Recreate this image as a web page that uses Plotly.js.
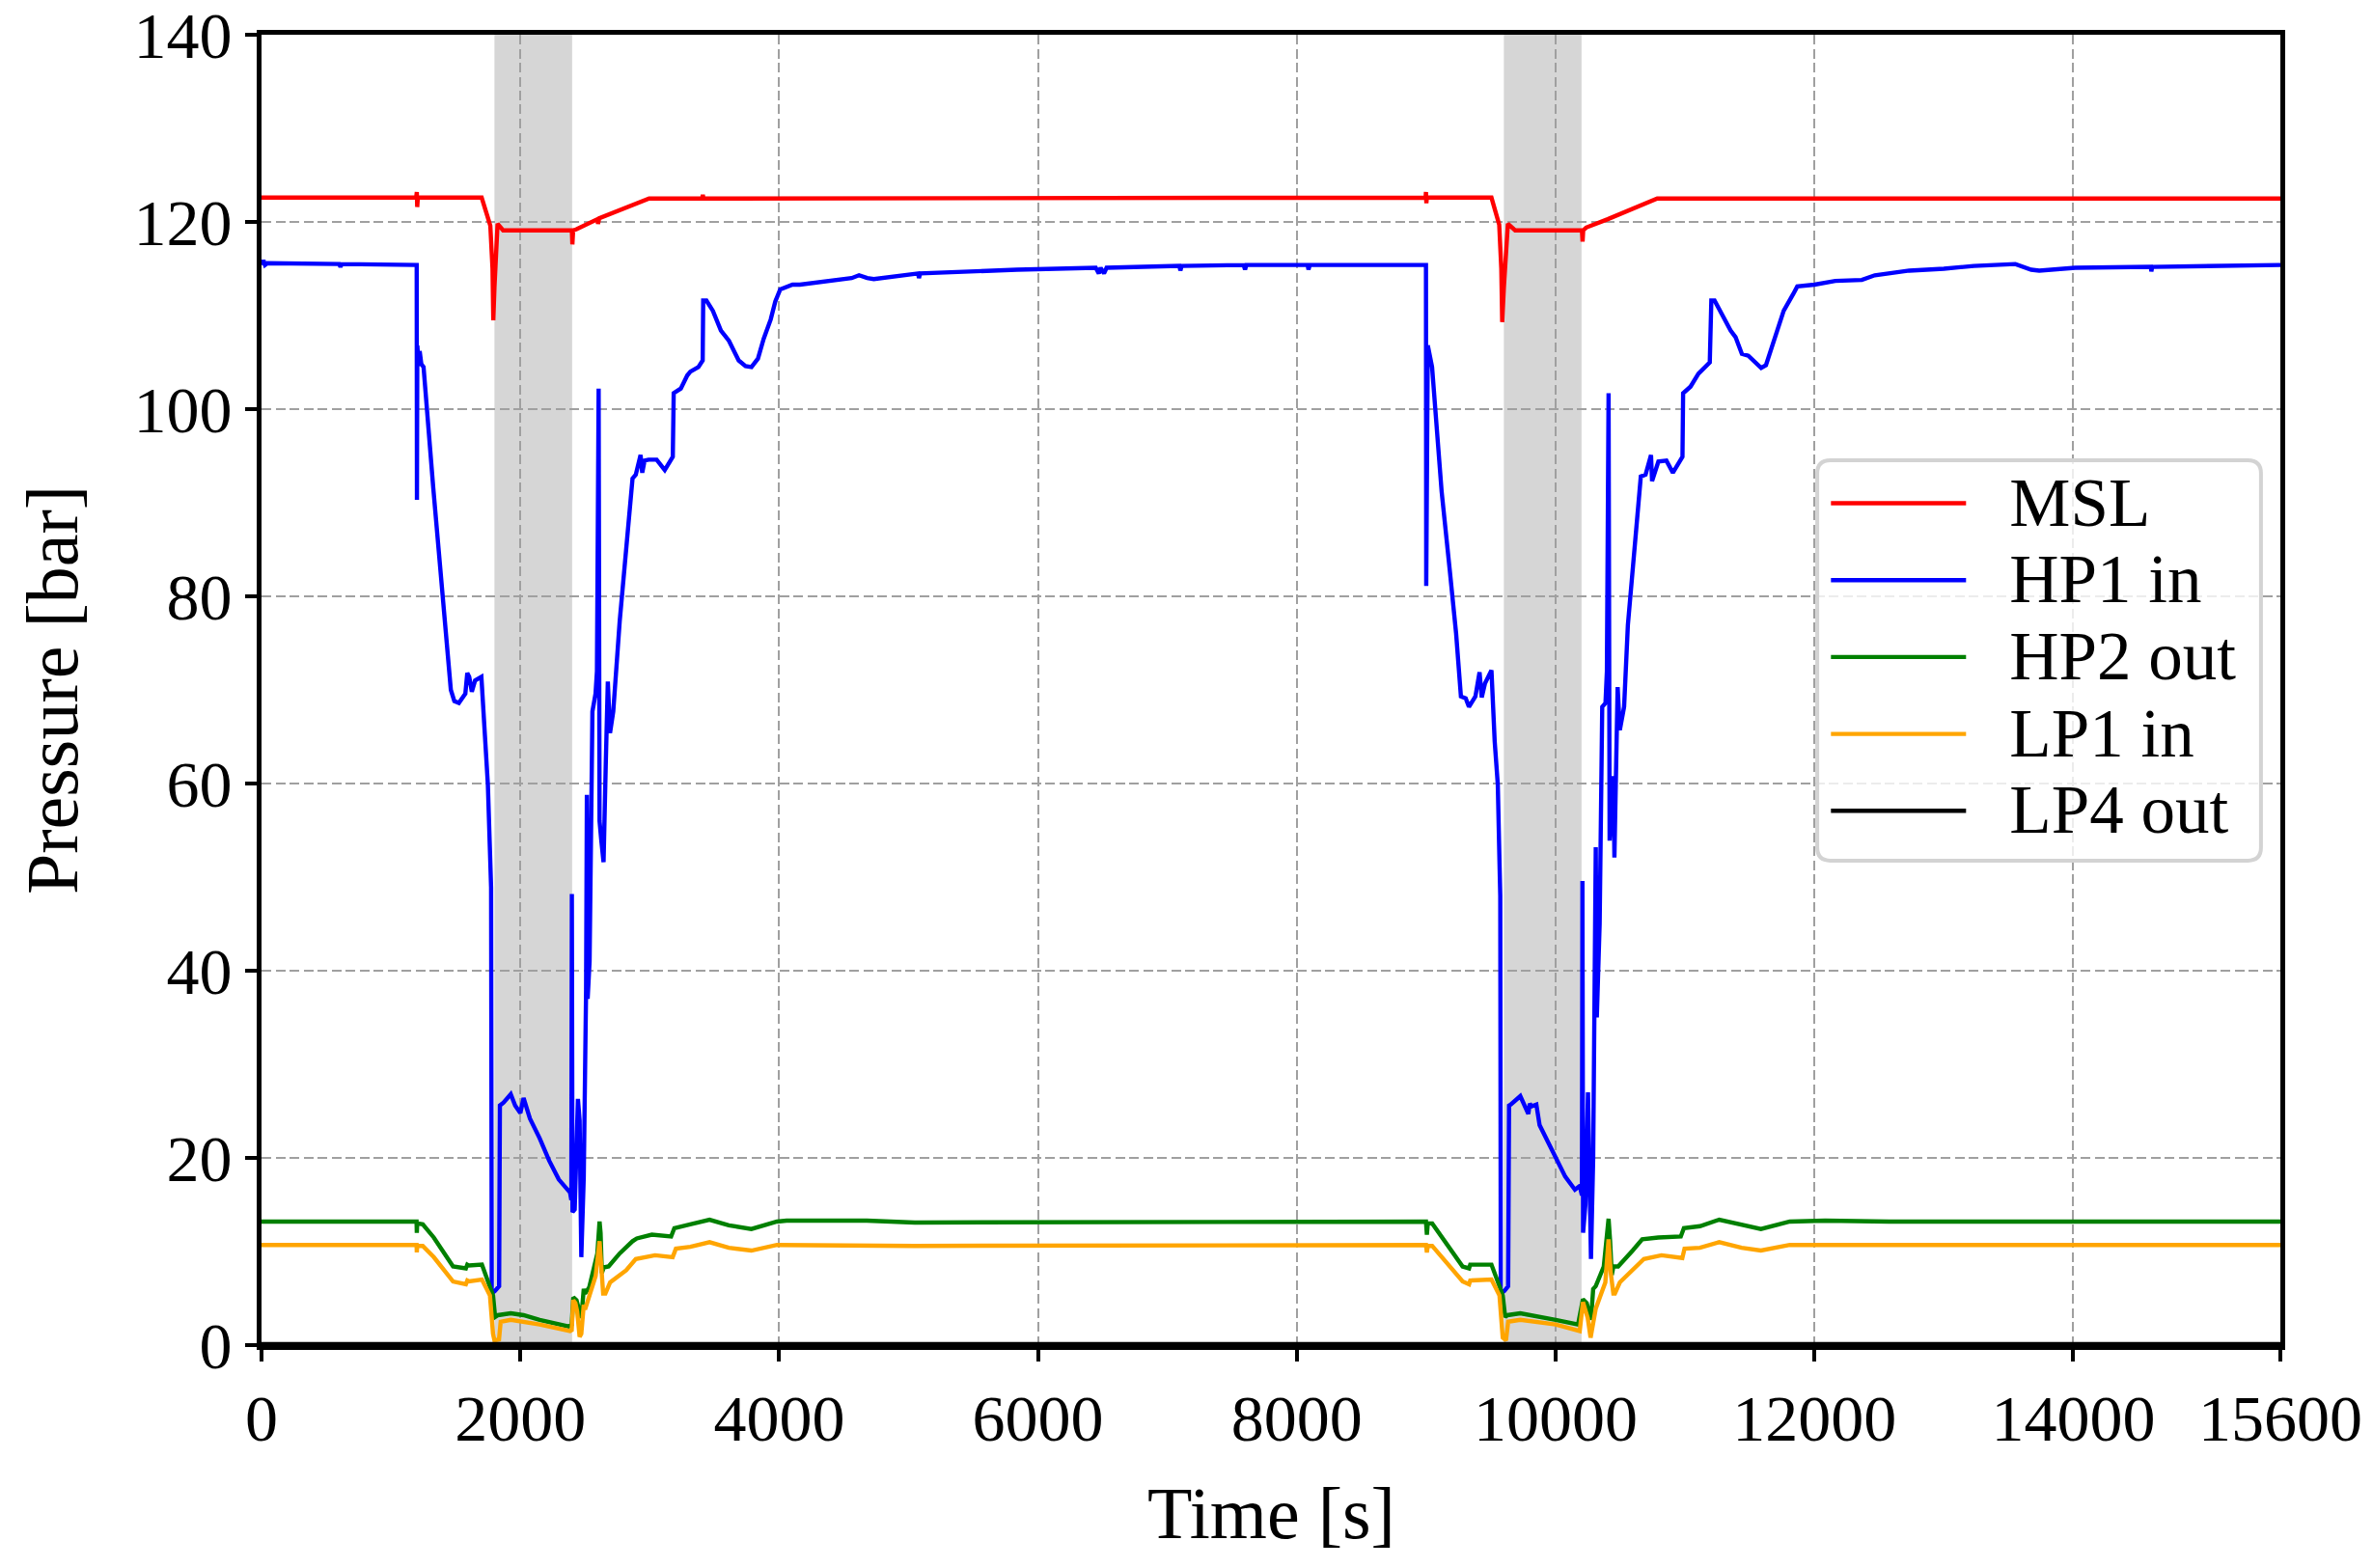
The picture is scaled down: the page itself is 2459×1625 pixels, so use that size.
<!DOCTYPE html>
<html><head><meta charset="utf-8">
<script src="https://cdn.plot.ly/plotly-3.0.1.min.js"></script>
<style>html,body{margin:0;padding:0;background:#fff;}#chart{width:2459px;height:1625px;}</style>
</head><body><div id="chart"></div>
<script>
// ---- data (time [s], pressure [bar]) ----
const xTickVals = [0, 2000, 4000, 6000, 8000, 10000, 12000, 14000, 15600];
const xTickText = ['0', '2000', '4000', '6000', '8000', '10000', '12000', '14000', '15600'];
const yTickVals = [0, 20, 40, 60, 80, 100, 120, 140];
const yTickText = ['0', '20', '40', '60', '80', '100', '120', '140'];
const shadeStart = [1800, 9600];
const shadeEnd = [2400, 10200];
const seriesNames = ['MSL', 'HP1 in', 'HP2 out', 'LP1 in', 'LP4 out'];
const xTitle = 'Time [s]';
const yTitle = 'Pressure [bar]';

const mslPoints = [[0,122.6],[1195,122.6],[1200,123.2],[1203,121.6],[1208,122.6],[1701,122.6],[1768,119.6],[1785,115],[1791,109.5],[1800,113],[1824,119.8],[1867,119.1],[2398,119.1],[2402,117.6],[2408,119.1],[2431,119.2],[2597,120.3],[2600,119.8],[2610,120.4],[2995,122.5],[3405,122.5],[3410,122.9],[3415,122.5],[8995,122.6],[8998,123.2],[9001,122.0],[9005,122.6],[9504,122.6],[9564,119.7],[9580,115],[9587,109.3],[9600,113],[9631,119.8],[9687,119.1],[10203,119.1],[10208,117.9],[10213,119.1],[10236,119.4],[10403,120.3],[10785,122.5],[15600,122.5]];

const hp1Points = [[0,115.4],[15,115.9],[27,115.4],[45,115.6],[600,115.5],[610,115.2],[620,115.5],[1199,115.4],[1201,90.3],[1204,106.8],[1215,104.6],[1222,106.2],[1235,104.8],[1252,104.5],[1327,91.6],[1376,83.4],[1426,75.1],[1463,70.0],[1490,68.8],[1525,68.6],[1560,69.3],[1575,69.6],[1590,71.8],[1605,71.4],[1625,69.8],[1650,71.0],[1699,71.4],[1749,59.9],[1774,48.9],[1779,5.5],[1805,5.8],[1836,6.3],[1842,25.6],[1870,25.9],[1926,26.8],[1960,25.6],[2000,24.8],[2025,26.4],[2074,24.2],[2149,22.1],[2223,19.7],[2297,17.7],[2384,16.3],[2394,15.5],[2398,48.2],[2403,14.2],[2420,14.5],[2445,26.3],[2458,24],[2471,9.4],[2490,18],[2500,30],[2508,38],[2514,58.8],[2520,37],[2535,41],[2557,67.7],[2581,69.6],[2592,72],[2605,102.2],[2612,56],[2625,54],[2643,51.6],[2660,62],[2676,70.9],[2693,65.4],[2718,67.7],[2768,77.4],[2830,87.5],[2867,92.6],[2892,93.0],[2929,95.1],[2942,93.2],[2960,94.5],[2991,94.6],[3053,94.6],[3116,93.5],[3178,94.9],[3185,101.7],[3240,102.2],[3290,103.6],[3314,104.0],[3376,104.5],[3409,105.2],[3413,111.6],[3438,111.6],[3488,110.5],[3550,108.4],[3612,107.3],[3687,105.2],[3740,104.6],[3786,104.5],[3836,105.4],[3880,107.5],[3935,109.6],[3970,111.5],[4008,112.8],[4103,113.3],[4160,113.3],[4312,113.6],[4503,113.9],[4560,114.0],[4617,114.3],[4680,114.0],[4731,113.9],[4846,114.1],[5074,114.5],[5080,114.0],[5090,114.5],[5836,114.9],[6446,115.1],[6470,114.5],[6484,115.1],[6510,114.5],[6530,115.1],[7093,115.3],[7100,114.8],[7110,115.3],[7589,115.4],[7600,114.9],[7610,115.4],[8084,115.4],[8090,114.9],[8100,115.4],[8998,115.4],
  [9000,81.1],[9004,106.8],[9012,106.8],[9045,104.5],[9119,91.2],[9181,82.9],[9231,76.0],[9268,69.3],[9305,69.1],[9330,68.2],[9380,69.3],[9412,71.9],[9429,69.2],[9454,70.7],[9504,72.1],[9529,64.5],[9553,59.9],[9566,51.6],[9572,48],[9576,5.5],[9605,5.8],[9633,6.3],[9640,25.6],[9653,25.7],[9727,26.6],[9789,24.7],[9800,25.8],[9814,25.5],[9851,25.7],[9876,23.5],[9926,22.1],[10000,20.1],[10074,18.0],[10149,16.6],[10186,17.0],[10203,16.0],[10207,49.6],[10212,12.0],[10230,15],[10250,27],[10273,9.2],[10290,20],[10310,53.2],[10318,35],[10340,45],[10360,68.2],[10385,68.6],[10396,72],[10409,101.7],[10417,53.9],[10447,60.8],[10454,52.1],[10479,70.3],[10496,65.7],[10529,68.2],[10558,76.9],[10608,84.7],[10658,92.8],[10695,93.0],[10737,95.1],[10745,92.3],[10794,94.4],[10856,94.5],[10906,93.2],[10980,94.9],[10985,101.7],[11042,102.4],[11092,103.4],[11104,103.8],[11191,105.0],[11203,111.6],[11228,111.6],[11290,110.0],[11352,108.4],[11390,107.7],[11439,105.9],[11489,105.7],[11588,104.4],[11625,104.7],[11687,107.3],[11762,110.5],[11836,112.3],[11867,113.1],[12000,113.3],[12161,113.7],[12366,113.8],[12466,114.3],[12732,114.8],[13000,115.0],[13231,115.3],[13552,115.5],[13675,114.9],[13737,114.8],[14015,115.1],[14600,115.2],[14603,114.7],[14610,115.2],[15600,115.4]];

const hp2Points = [[0,13.2],[1198,13.2],[1200,12.0],[1203,13.0],[1246,12.9],[1331,11.5],[1480,8.4],[1579,8.2],[1590,8.6],[1603,8.5],[1703,8.6],[1765,6.3],[1789,5.3],[1805,3.0],[1827,3.2],[1926,3.4],[2025,3.2],[2149,2.7],[2372,2.0],[2397,2.2],[2409,5.1],[2434,4.8],[2471,2.9],[2490,6.0],[2500,5.5],[2533,6.2],[2570,8.4],[2595,9.8],[2612,13.2],[2620,12.0],[2630,7.7],[2644,8.3],[2682,8.4],[2768,9.8],[2867,11.1],[2900,11.4],[3016,11.8],[3150,11.6],[3165,11.6],[3190,12.5],[3314,12.9],[3462,13.4],[3611,12.8],[3785,12.4],[3983,13.2],[4057,13.3],[4677,13.3],[5048,13.1],[8998,13.2],
  [9005,11.8],[9012,13.0],[9046,13.0],[9281,8.4],[9331,8.2],[9340,8.6],[9418,8.6],[9504,8.6],[9566,6.3],[9591,5.3],[9610,3.0],[9628,3.2],[9727,3.4],[9851,3.1],[10000,2.7],[10173,2.2],[10211,4.9],[10240,4.5],[10273,2.7],[10290,6.0],[10310,6.3],[10372,8.4],[10409,13.5],[10421,11.1],[10434,7.5],[10446,8.4],[10483,8.4],[10595,10.1],[10669,11.3],[10793,11.5],[10967,11.6],[10991,12.5],[11115,12.7],[11264,13.4],[11437,12.8],[11586,12.4],[11809,13.2],[12082,13.3],[12577,13.2],[15600,13.2]];

const lp1Points = [[0,10.7],[1198,10.7],[1200,9.9],[1203,10.6],[1246,10.6],[1331,9.4],[1480,6.8],[1579,6.5],[1590,6.9],[1603,6.8],[1703,7.0],[1765,5.3],[1789,1.2],[1800,0.5],[1835,0.6],[1848,2.5],[1926,2.7],[2025,2.5],[2149,2.2],[2384,1.5],[2397,1.6],[2409,4.8],[2425,4.5],[2439,3.6],[2458,0.9],[2471,1.2],[2490,4.3],[2500,3.8],[2545,5.6],[2582,7.4],[2612,11.1],[2625,8.5],[2640,5.5],[2657,5.5],[2694,6.7],[2818,8.0],[2892,9.2],[3041,9.6],[3177,9.4],[3202,10.3],[3314,10.5],[3462,11.0],[3611,10.4],[3785,10.1],[3983,10.7],[5048,10.6],[8998,10.7],
  [9005,9.9],[9012,10.6],[9046,10.6],[9281,6.8],[9331,6.5],[9340,6.9],[9504,7.0],[9566,5.3],[9591,0.8],[9616,0.5],[9633,2.5],[9727,2.7],[10000,2.2],[10186,1.5],[10211,4.6],[10248,2.9],[10270,0.8],[10280,1.5],[10310,3.9],[10347,5.3],[10384,6.7],[10409,11.3],[10426,7.7],[10446,5.5],[10458,5.5],[10496,6.7],[10595,8.0],[10682,9.2],[10818,9.6],[10979,9.3],[10996,10.3],[11115,10.4],[11264,11.0],[11437,10.4],[11586,10.1],[11809,10.7],[15600,10.7]];

const lp4Points = [[0,0.1],[1800,0.1],[2400,0.1],[9600,0.1],[10200,0.1],[15600,0.1]];

// ---- traces ----
function mk(points, name, color) {
  return {
    type: 'scatter', mode: 'lines',
    name: '<span style="font-size:80px">\u00a0\u00a0</span><span style="font-size:71px">' + name + '</span>',
    x: points.map(p => p[0]), y: points.map(p => p[1]),
    line: {color: color, width: 4.4},
    hoverinfo: 'skip'
  };
}
const traces = [
  mk(mslPoints, seriesNames[0], '#ff0000'),
  mk(hp1Points, seriesNames[1], '#0000ff'),
  mk(hp2Points, seriesNames[2], '#008000'),
  mk(lp1Points, seriesNames[3], '#ffa500'),
  mk(lp4Points, seriesNames[4], '#000000')
];

// ---- shapes: shaded spans + rounded legend frame ----
const shapes = shadeStart.map((s, i) => ({
  type: 'rect', xref: 'x', yref: 'paper', x0: s, x1: shadeEnd[i], y0: 0, y1: 1,
  fillcolor: '#d6d6d6', line: {width: 0}, layer: 'below'
}));
const lx0 = 0.7706, lx1 = 0.9904, ly0 = 0.3697, ly1 = 0.6753, rx = 0.0065, ry = 0.0100;
shapes.push({
  type: 'path', xref: 'paper', yref: 'paper', layer: 'above',
  path: `M${lx0+rx},${ly1} L${lx1-rx},${ly1} Q${lx1},${ly1} ${lx1},${ly1-ry} L${lx1},${ly0+ry} Q${lx1},${ly0} ${lx1-rx},${ly0} L${lx0+rx},${ly0} Q${lx0},${ly0} ${lx0},${ly0+ry} L${lx0},${ly1-ry} Q${lx0},${ly1} ${lx0+rx},${ly1} Z`,
  fillcolor: 'rgba(255,255,255,0.8)', line: {color: '#d3d3d3', width: 4}
});

const axisCommon = {
  showline: true, linecolor: '#000', linewidth: 5, mirror: true,
  ticks: 'outside', ticklen: 12, tickwidth: 4, tickcolor: '#000',
  showgrid: true, gridcolor: '#a0a0a0', gridwidth: 2, griddash: '10px,4.5px',
  zeroline: false, tickfont: {size: 68, color: '#000'}, ticklabeloverflow: 'allow'
};

const layout = {
  width: 2459, height: 1625,
  margin: {l: 271, r: 96, t: 36, b: 231, pad: 0},
  paper_bgcolor: '#ffffff', plot_bgcolor: '#ffffff',
  font: {family: '"Liberation Serif", "DejaVu Serif", serif', size: 66, color: '#000'},
  showlegend: true,
  xaxis: Object.assign({}, axisCommon, {
    range: [0, 15600], tickmode: 'array', tickvals: xTickVals, ticktext: xTickText
  }),
  yaxis: Object.assign({}, axisCommon, {
    range: [0, 140], tickmode: 'array', tickvals: yTickVals, ticktext: yTickText,
    title: {text: yTitle, font: {size: 76}, standoff: 34}
  }),
  annotations: [{
    xref: 'paper', yref: 'paper', x: 0.5, y: -0.128, xanchor: 'center', yanchor: 'middle',
    text: xTitle, showarrow: false, font: {size: 76, color: '#000'}
  }],
  legend: {
    x: 0.7750, y: 0.6755, xanchor: 'left', yanchor: 'top',
    bgcolor: 'rgba(0,0,0,0)', borderwidth: 0,
    font: {size: 59, color: '#000'}, itemwidth: 140, tracegroupgap: 0
  },
  shapes: shapes
};

Plotly.newPlot('chart', traces, layout, {staticPlot: true, displayModeBar: false});
</script>
</body></html>
